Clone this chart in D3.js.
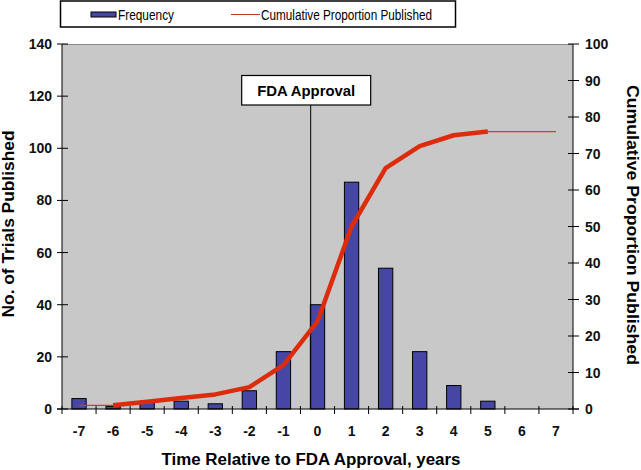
<!DOCTYPE html>
<html><head><meta charset="utf-8">
<script src="https://cdn.jsdelivr.net/npm/d3@7"></script>
<style>body{margin:0;background:#fff}svg{display:block}text{font-family:Arial,"Liberation Sans",sans-serif}</style>
</head><body><svg id="c" width="641" height="470"></svg>
<script>
const years = [-7,-6,-5,-4,-3,-2,-1,0,1,2,3,4,5,6,7];
const frequency = [4,1,3,3,2,7,22,40,87,54,22,9,3,0,0];
const cumulative = [1,1,2,3,4,6,12,24,50,66,72,75,76,76,76];
const leftTicks = [0,20,40,60,80,100,120,140];
const rightTicks = [0,10,20,30,40,50,60,70,80,90,100];
const fdaYear = -0.2;

const svg = d3.select("#c");
const L=62,R=573,T=44,B=409;
const x = d3.scaleBand().domain(years).range([L,R]).padding(0);
const xl = d3.scaleLinear().domain([-7.5,7.5]).range([L,R]);
const y = d3.scaleLinear().domain([0,140]).range([B,T]);
const yr = d3.scaleLinear().domain([0,100]).range([B,T]);
const bw = x.bandwidth();

// plot background
svg.append("rect").attr("x",L).attr("y",T).attr("width",R-L).attr("height",B-T).attr("fill","#c8c8c8");
svg.append("line").attr("x1",L).attr("x2",R).attr("y1",T+0.5).attr("y2",T+0.5).attr("stroke","#8a8a8a");

// bars
svg.append("g").selectAll("rect").data(years).join("rect")
  .attr("x",(d)=>x(d)+bw*0.29).attr("width",bw*0.42)
  .attr("y",(d,i)=>y(frequency[i])).attr("height",(d,i)=>B-y(frequency[i]))
  .attr("fill","#4646a4").attr("stroke","#000").attr("stroke-width",1);

// FDA line and box
const fx = xl(fdaYear);
svg.append("line").attr("x1",fx).attr("x2",fx).attr("y1",105).attr("y2",B).attr("stroke","#000").attr("stroke-width",1);
svg.append("rect").attr("x",fx-69).attr("y",75.5).attr("width",129).attr("height",29.5).attr("fill","#fff").attr("stroke","#000").attr("stroke-width",1.2);
svg.append("text").attr("x",fx-4.5).attr("y",96).attr("text-anchor","middle").attr("font-size",14).attr("font-weight","bold")
  .attr("textLength",98).attr("lengthAdjust","spacingAndGlyphs").text("FDA Approval");

// cumulative line
const cx = (d)=>x(d)+bw/2;
const pts = years.map((d,i)=>[cx(d),yr(cumulative[i])]);
const line = d3.line();
svg.append("path").attr("d",line(pts.slice(0,2))).attr("fill","none").attr("stroke","#d83a1a").attr("stroke-width",1.3);
svg.append("path").attr("d",line(pts.slice(12))).attr("fill","none").attr("stroke","#d83a1a").attr("stroke-width",1.3);
svg.append("path").attr("d",line(pts.slice(1,13))).attr("fill","none").attr("stroke","#dd2c0c").attr("stroke-width",4.5).attr("stroke-linejoin","round");

// axes
const ax = svg.append("g");
ax.append("line").attr("x1",L).attr("x2",L).attr("y1",T).attr("y2",B).attr("stroke","#000");
ax.append("line").attr("x1",R).attr("x2",R).attr("y1",T).attr("y2",B).attr("stroke","#000");
ax.append("line").attr("x1",L-5).attr("x2",R+6).attr("y1",B).attr("y2",B).attr("stroke","#000");
ax.selectAll(".lt").data(leftTicks).join("line").attr("x1",L-5).attr("x2",L+6).attr("y1",d=>y(d)).attr("y2",d=>y(d)).attr("stroke","#000");
ax.selectAll(".ltx").data(leftTicks).join("text").attr("x",L-10).attr("y",d=>y(d)+5).attr("text-anchor","end")
  .attr("font-size",14).attr("font-weight","bold").attr("fill","#111").text(d=>d);
ax.selectAll(".rt").data(rightTicks).join("line").attr("x1",R-5).attr("x2",R+6).attr("y1",d=>yr(d)).attr("y2",d=>yr(d)).attr("stroke","#000");
ax.selectAll(".rtx").data(rightTicks).join("text").attr("x",R+12).attr("y",d=>yr(d)+5).attr("text-anchor","start")
  .attr("font-size",14).attr("font-weight","bold").attr("fill","#111").text(d=>d);
const xb = d3.range(-7.5,7.6,1);
ax.selectAll(".xt").data(xb).join("line").attr("x1",d=>xl(d)).attr("x2",d=>xl(d)).attr("y1",B-3).attr("y2",B+5).attr("stroke","#000");
ax.selectAll(".xtx").data(years).join("text").attr("x",d=>cx(d)).attr("y",436).attr("text-anchor","middle")
  .attr("font-size",14).attr("font-weight","bold").attr("fill","#111").text(d=>d);

// titles
svg.append("text").attr("transform","translate(14,224) rotate(-90)").attr("text-anchor","middle").attr("font-size",16).attr("font-weight","bold")
  .attr("textLength",187).attr("lengthAdjust","spacingAndGlyphs").text("No. of Trials Published");
svg.append("text").attr("transform","translate(627,225) rotate(90)").attr("text-anchor","middle").attr("font-size",16).attr("font-weight","bold")
  .attr("textLength",280).attr("lengthAdjust","spacingAndGlyphs").text("Cumulative Proportion Published");
svg.append("text").attr("x",311).attr("y",465).attr("text-anchor","middle").attr("font-size",16).attr("font-weight","bold")
  .attr("textLength",299).attr("lengthAdjust","spacingAndGlyphs").text("Time Relative to FDA Approval, years");

// legend
const lg = svg.append("g");
lg.append("rect").attr("x",60.5).attr("y",1).attr("width",395).attr("height",26).attr("fill","#fff").attr("stroke","#000").attr("stroke-width",1.5);
lg.append("rect").attr("x",91).attr("y",12).attr("width",25).attr("height",5).attr("fill","#4646a4").attr("stroke","#000").attr("stroke-width",1);
lg.append("text").attr("x",118).attr("y",20).attr("font-size",14).attr("textLength",56).attr("lengthAdjust","spacingAndGlyphs").text("Frequency");
lg.append("line").attr("x1",231).attr("x2",260).attr("y1",14.5).attr("y2",14.5).attr("stroke","#b83a20").attr("stroke-width",1);
lg.append("text").attr("x",261).attr("y",20).attr("font-size",14).attr("textLength",171).attr("lengthAdjust","spacingAndGlyphs").text("Cumulative Proportion Published");
</script></body></html>
